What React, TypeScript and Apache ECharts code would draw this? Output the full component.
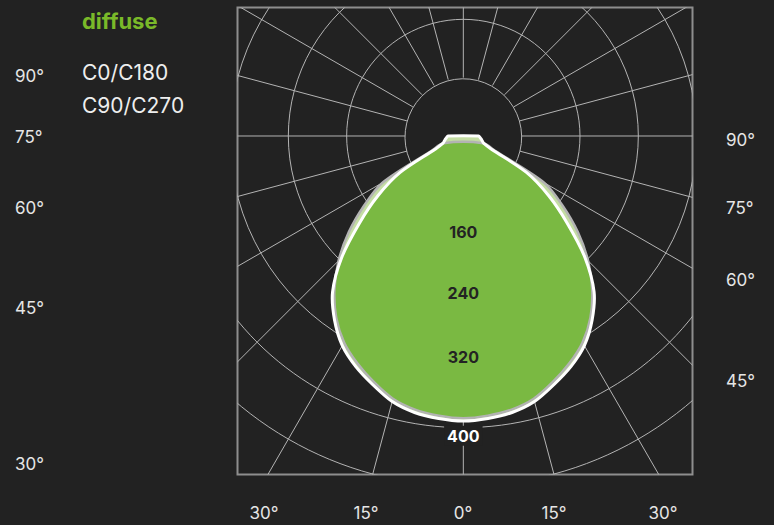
import React, { useEffect, useRef } from "react";
import * as echarts from "echarts";

// ---- data ----
const angleDeg = [0, 5, 10, 15, 20, 25, 30, 35, 40, 45, 50, 55, 60, 65, 70, 75, 80, 85, 90];
const intensityC0C180 = [391, 389, 385, 377, 363, 349, 332, 308, 279, 236, 186, 143, 100, 42, 30, 27, 25, 23, 21];
const intensityC90C270 = [387, 385, 381, 373, 359, 344, 327, 304, 275, 242, 205, 166, 128, 48, 29, null, null, null, null];
const ringValues = [80, 160, 240, 320, 400, 480, 560];
const ringLabelValues = [160, 240, 320, 400];
const spokeAngles = [0, 15, 30, 45, 60, 75, 90, 105, 120, 135, 150, 165, 180, 195, 210, 225, 240, 255, 270, 285, 300, 315, 330, 345];
const leftAngleLabels = ["90°", "75°", "60°", "45°", "30°"];
const rightAngleLabels = ["90°", "75°", "60°", "45°"];
const bottomAngleLabels = ["30°", "15°", "0°", "15°", "30°"];
const planeNames = ["C0/C180", "C90/C270"];
const titleText = "diffuse";

// ---- layout / style ----
const BG = "#222222";
const GRID_COLOR = "#b4b4b4";
const FRAME_COLOR = "#8e8e8e";
const GREEN = "#7ab942";
const LIGHT_GREEN = "#c4dda3";
const TEXT = "#e6e6e6";
const FONT = "Inter, 'Noto Sans', sans-serif";
const X_MIN = -309.7;
const X_MAX = 314.3;
const Y_MIN = -464.2;
const Y_MAX = 176.2;
const SMOOTH = 0.3;
const ringLabelOffsetPx = [-21, -18, -12, 8];
const leftLabelY = [76, 137, 208, 308, 464];
const rightLabelY = [140, 208, 280, 381];
const bottomLabelX = [264, 366, 463, 554, 663];

function toXY(v: number, deg: number, side: number): number[] {
  const t = (deg * Math.PI) / 180;
  return [side * v * Math.sin(t), -v * Math.cos(t)];
}

function outline(values: (number | null)[], api: any): number[][] {
  const pts: number[][] = [];
  for (let i = angleDeg.length - 1; i >= 0; i--) {
    const v = values[i];
    if (v == null) continue;
    pts.push(api.coord(toXY(v, angleDeg[i], -1)));
  }
  for (let i = 1; i < angleDeg.length; i++) {
    const v = values[i];
    if (v == null) continue;
    pts.push(api.coord(toXY(v, angleDeg[i], 1)));
  }
  return pts;
}

const overlap = intensityC0C180.map((v, i) => {
  const w = intensityC90C270[i];
  if (v == null || w == null) return null;
  return Math.min(v, w);
});

function clipRect(params: any) {
  const cs = params.coordSys;
  return { type: "rect", shape: { x: cs.x, y: cs.y, width: cs.width, height: cs.height } };
}

export default function App() {
  const ref = useRef<HTMLDivElement>(null);
  useEffect(() => {
    const chart = echarts.init(ref.current!, null, { renderer: "svg" });
    const graphics: any[] = [];
    graphics.push({
      type: "text",
      x: 82,
      y: 21,
      style: { text: titleText, fill: "#7ab929", font: `bold 22px ${FONT}`, align: "left", verticalAlign: "middle" },
    });
    planeNames.forEach((n, i) => {
      graphics.push({
        type: "text",
        x: 82,
        y: 72 + i * 33,
        style: { text: n, fill: "#eeeeee", font: `21px ${FONT}`, align: "left", verticalAlign: "middle" },
      });
    });
    leftAngleLabels.forEach((t, i) => {
      graphics.push({
        type: "text",
        x: 15,
        y: leftLabelY[i],
        style: { text: t, fill: TEXT, font: `17px ${FONT}`, align: "left", verticalAlign: "middle" },
      });
    });
    rightAngleLabels.forEach((t, i) => {
      graphics.push({
        type: "text",
        x: 726,
        y: rightLabelY[i],
        style: { text: t, fill: TEXT, font: `17px ${FONT}`, align: "left", verticalAlign: "middle" },
      });
    });
    bottomAngleLabels.forEach((t, i) => {
      graphics.push({
        type: "text",
        x: bottomLabelX[i],
        y: 513,
        style: { text: t, fill: TEXT, font: `17px ${FONT}`, align: "center", verticalAlign: "middle" },
      });
    });

    const option: any = {
      animation: false,
      backgroundColor: BG,
      grid: {
        left: 237.5,
        top: 7.5,
        width: 455,
        height: 467,
        show: true,
        borderColor: FRAME_COLOR,
        borderWidth: 2,
        backgroundColor: "transparent",
      },
      xAxis: { type: "value", min: X_MIN, max: X_MAX, show: false },
      yAxis: { type: "value", min: Y_MIN, max: Y_MAX, show: false },
      graphic: graphics,
      series: [
        {
          type: "custom",
          name: "grid",
          silent: true,
          clip: true,
          z: 1,
          data: [[0, 0]],
          renderItem: (params: any, api: any) => {
            const c = api.coord([0, 0]);
            const children: any[] = [];
            ringValues.forEach((v) => {
              const r = api.coord([v, 0])[0] - c[0];
              children.push({
                type: "circle",
                shape: { cx: c[0], cy: c[1], r },
                style: { fill: "none", stroke: GRID_COLOR, lineWidth: 1 },
              });
            });
            spokeAngles.forEach((a) => {
              const p1 = api.coord(toXY(ringValues[0], a, 1));
              const p2 = api.coord(toXY(1200, a, 1));
              children.push({
                type: "line",
                shape: { x1: p1[0], y1: p1[1], x2: p2[0], y2: p2[1] },
                style: { stroke: GRID_COLOR, lineWidth: 1 },
              });
            });
            return { type: "group", children, clipPath: clipRect(params) };
          },
        },
        {
          type: "custom",
          name: "intensity",
          silent: true,
          clip: true,
          z: 2,
          data: [[0, 0]],
          renderItem: (params: any, api: any) => {
            const a = outline(intensityC0C180, api);
            const b = outline(intensityC90C270, api);
            const o = outline(overlap, api);
            return {
              type: "group",
              children: [
                { type: "polygon", shape: { points: a, smooth: SMOOTH }, style: { fill: LIGHT_GREEN, stroke: "none" } },
                { type: "polygon", shape: { points: b, smooth: SMOOTH }, style: { fill: LIGHT_GREEN, stroke: "none" } },
                { type: "polygon", shape: { points: o, smooth: SMOOTH }, style: { fill: GREEN, stroke: "none" } },
                {
                  type: "polygon",
                  shape: { points: b, smooth: SMOOTH },
                  style: { fill: "none", stroke: "#b3b3b3", lineWidth: 2.5, lineJoin: "round" },
                },
                {
                  type: "polygon",
                  shape: { points: a, smooth: SMOOTH },
                  style: { fill: "none", stroke: "#ffffff", lineWidth: 3, lineJoin: "round" },
                },
              ],
            };
          },
        },
        {
          type: "custom",
          name: "ringLabels",
          silent: true,
          z: 3,
          data: [[0, 0]],
          renderItem: (params: any, api: any) => {
            const children = ringLabelValues.map((v, i) => {
              const p = api.coord([0, -v]);
              const last = i === ringLabelValues.length - 1;
              return {
                type: "text",
                x: p[0],
                y: p[1] + ringLabelOffsetPx[i],
                style: {
                  text: String(v),
                  fill: last ? "#ffffff" : "#232323",
                  font: `bold 16px ${FONT}`,
                  align: "center",
                  verticalAlign: "middle",
                  backgroundColor: last ? BG : "transparent",
                  padding: last ? [2, 3] : 0,
                },
              };
            });
            return { type: "group", children };
          },
        },
      ],
    };
    chart.setOption(option);
    return () => chart.dispose();
  }, []);
  return <div ref={ref} style={{ position: "fixed", left: 0, top: 0, width: 774, height: 525 }} />;
}
